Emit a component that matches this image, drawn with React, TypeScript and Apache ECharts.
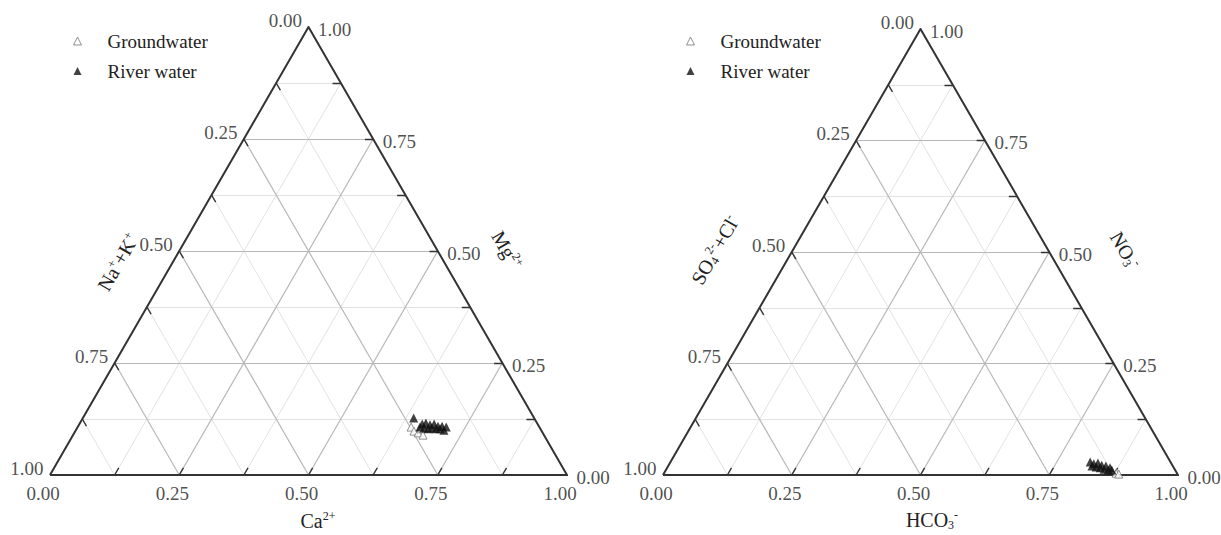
import { useEffect, useRef } from "react";
import * as echarts from "echarts";

// ---- data ----
const TICK_VALUES = [0, 0.25, 0.5, 0.75, 1];
const TICK_LABELS = ["0.00", "0.25", "0.50", "0.75", "1.00"];
const MAJOR_LEVELS = [0.25, 0.5, 0.75];
const MINOR_LEVELS = [0.125, 0.375, 0.625, 0.875];
const TICK_MARKS = [0.125, 0.25, 0.375, 0.5, 0.625, 0.75, 0.875];
const LEGEND_NAMES = ["Groundwater", "River water"];

// Cation triangle: [Ca2+, Mg2+]  (Na+ + K+ = 1 - Ca - Mg)
const cationRiver = [
  [0.640, 0.127], [0.663, 0.114], [0.669, 0.116], [0.679, 0.112], [0.686, 0.114],
  [0.696, 0.109], [0.704, 0.109], [0.713, 0.107], [0.671, 0.105], [0.680, 0.103],
  [0.686, 0.105], [0.695, 0.103], [0.703, 0.103], [0.712, 0.100], [0.662, 0.107],
];
const cationGround = [
  [0.645, 0.107], [0.655, 0.098], [0.665, 0.094], [0.666, 0.103], [0.677, 0.089],
];

// Anion triangle: [HCO3-, NO3-]  (SO4 2- + Cl- = 1 - HCO3 - NO3)
const anionRiver = [
  [0.815, 0.029], [0.824, 0.025], [0.831, 0.027], [0.841, 0.022], [0.850, 0.020],
  [0.860, 0.016], [0.832, 0.018], [0.841, 0.016], [0.850, 0.013], [0.859, 0.011],
  [0.866, 0.011], [0.823, 0.020],
];
const anionGround = [
  [0.878, 0.004], [0.884, 0.002],
];

const H = Math.sqrt(3) / 2;
const toXY = (a: number, b: number) => [a + b / 2, b * H];

const SERIF = '"Liberation Serif", "Times New Roman", serif';
const TEXT_COLOR = "#222222";

function gridSegments(levels: number[]) {
  const segs: any[] = [];
  levels.forEach((t) => {
    segs.push({ coords: [toXY(0, t), toXY(1 - t, t)] });
    segs.push({ coords: [toXY(t, 0), toXY(t, 1 - t)] });
    segs.push({ coords: [toXY(1 - t, 0), toXY(0, 1 - t)] });
  });
  return segs;
}

function tickSegments() {
  const L = 0.016;
  const segs: any[] = [];
  TICK_MARKS.forEach((t) => {
    segs.push({ coords: [toXY(t, 0), toXY(t, L)] });
    segs.push({ coords: [toXY(0, 1 - t), toXY(L, 1 - t - L)] });
    segs.push({ coords: [toXY(1 - t, t), toXY(1 - t - L, t)] });
  });
  return segs;
}

function triangleSeries(idx: number, river: number[][], ground: number[][]) {
  const labelBase = {
    show: true,
    formatter: "{b}",
    fontFamily: SERIF,
    fontSize: 19,
    color: TEXT_COLOR,
  };
  const dummy = { color: "transparent" };
  return [
    {
      type: "lines",
      coordinateSystem: "cartesian2d",
      xAxisIndex: idx,
      yAxisIndex: idx,
      silent: true,
      z: 1,
      lineStyle: { color: "#e2e2e2", width: 1, opacity: 1 },
      data: gridSegments(MINOR_LEVELS),
    },
    {
      type: "lines",
      coordinateSystem: "cartesian2d",
      xAxisIndex: idx,
      yAxisIndex: idx,
      silent: true,
      z: 2,
      lineStyle: { color: "#b8b8b8", width: 1.2, opacity: 1 },
      data: gridSegments(MAJOR_LEVELS),
    },
    {
      type: "lines",
      coordinateSystem: "cartesian2d",
      xAxisIndex: idx,
      yAxisIndex: idx,
      silent: true,
      z: 3,
      lineStyle: { color: "#333", width: 1.4, opacity: 1 },
      data: tickSegments(),
    },
    {
      type: "line",
      xAxisIndex: idx,
      yAxisIndex: idx,
      silent: true,
      z: 4,
      symbol: "none",
      lineStyle: { color: "#333", width: 2, join: "miter" },
      data: [toXY(0, 0), toXY(1, 0), toXY(0, 1), toXY(0, 0)],
    },
    {
      name: LEGEND_NAMES[0],
      type: "scatter",
      xAxisIndex: idx,
      yAxisIndex: idx,
      z: 5,
      symbol: "triangle",
      symbolSize: 8,
      itemStyle: { color: "#ffffff", borderColor: "#777", borderWidth: 1 },
      data: ground.map((p) => toXY(p[0], p[1])),
    },
    {
      name: LEGEND_NAMES[1],
      type: "scatter",
      xAxisIndex: idx,
      yAxisIndex: idx,
      z: 6,
      symbol: "triangle",
      symbolSize: 9,
      itemStyle: { color: "#111111" },
      data: river.map((p) => toXY(p[0], p[1])),
    },
    // base labels
    {
      type: "scatter",
      xAxisIndex: idx,
      yAxisIndex: idx,
      silent: true,
      z: 7,
      symbolSize: 1,
      itemStyle: dummy,
      label: { ...labelBase, position: "bottom", distance: 8, offset: [-7, 0] },
      data: TICK_VALUES.map((t, i) => ({ value: toXY(t, 0), name: TICK_LABELS[i] })),
    },
    // left edge labels
    {
      type: "scatter",
      xAxisIndex: idx,
      yAxisIndex: idx,
      silent: true,
      z: 7,
      symbolSize: 1,
      itemStyle: dummy,
      label: { ...labelBase, position: "left", distance: 6, offset: [0, -7] },
      data: TICK_VALUES.map((t, i) => ({ value: toXY(0, 1 - t), name: TICK_LABELS[i] })),
    },
    // right edge labels
    {
      type: "scatter",
      xAxisIndex: idx,
      yAxisIndex: idx,
      silent: true,
      z: 7,
      symbolSize: 1,
      itemStyle: dummy,
      label: { ...labelBase, position: "right", distance: 9, offset: [0, 2] },
      data: TICK_VALUES.map((t, i) => ({ value: toXY(1 - t, t), name: TICK_LABELS[i] })),
    },
  ];
}

const rich = {
  m: { fontFamily: SERIF, fontSize: 20, fill: TEXT_COLOR, color: TEXT_COLOR, lineHeight: 22 },
  sup: { fontFamily: SERIF, fontSize: 12, fill: TEXT_COLOR, color: TEXT_COLOR, lineHeight: 10, verticalAlign: "top" },
  sub: { fontFamily: SERIF, fontSize: 12, fill: TEXT_COLOR, color: TEXT_COLOR, lineHeight: 10, verticalAlign: "bottom" },
};

function title(text: string, x: number, y: number, rotation = 0) {
  return {
    type: "text",
    x,
    y,
    rotation,
    silent: true,
    style: {
      text,
      rich,
      align: "center",
      verticalAlign: "middle",
      textAlign: "center",
      textVerticalAlign: "middle",
    },
  };
}

function legend(left: number) {
  return {
    orient: "vertical",
    left,
    top: 31,
    padding: 0,
    itemWidth: 8,
    itemHeight: 8,
    itemGap: 10,
    selectedMode: false,
    textStyle: {
      fontFamily: SERIF,
      fontSize: 19,
      color: TEXT_COLOR,
      lineHeight: 20,
      padding: [0, 0, 0, 21],
    },
    data: [
      { name: LEGEND_NAMES[0], icon: "triangle", itemStyle: { color: "#fff", borderColor: "#777", borderWidth: 1 } },
      { name: LEGEND_NAMES[1], icon: "triangle", itemStyle: { color: "#111" } },
    ],
  };
}

export default function App() {
  const ref = useRef<HTMLDivElement>(null);
  useEffect(() => {
    if (!ref.current) return;
    const chart = echarts.init(ref.current, undefined, { renderer: "svg" });
    const axisX = (gi: number) => ({ type: "value", gridIndex: gi, min: 0, max: 1, show: false });
    const axisY = (gi: number) => ({ type: "value", gridIndex: gi, min: 0, max: H, show: false });
    chart.setOption({
      animation: false,
      backgroundColor: "#ffffff",
      grid: [
        { left: 50, top: 27, width: 517, height: 448, outerBoundsMode: "none", containLabel: false },
        { left: 663, top: 29, width: 515, height: 446, outerBoundsMode: "none", containLabel: false },
      ],
      xAxis: [axisX(0), axisX(1)],
      yAxis: [axisY(0), axisY(1)],
      legend: [legend(73), legend(686)],
      series: [
        ...triangleSeries(0, cationRiver, cationGround),
        ...triangleSeries(1, anionRiver, anionGround),
      ],
      graphic: [
        title("{m|Ca}{sup|2+}", 318, 521),
        title("{m|Na}{sup|+}{m|+K}{sup|+}", 118, 262, Math.PI / 3),
        title("{m|Mg}{sup|2+}", 507, 250, -Math.PI / 3),
        title("{m|HCO}{sub|3}{sup|-}", 932, 520),
        title("{m|SO}{sub|4}{sup|2-}{m|+Cl}{sup|-}", 715, 250, Math.PI / 3),
        title("{m|NO}{sub|3}{sup|-}", 1125, 250, -Math.PI / 3),
      ],
    });
    return () => chart.dispose();
  }, []);
  return (
    <div
      ref={ref}
      style={{ position: "fixed", left: 0, top: 0, width: 1221, height: 535, background: "#fff" }}
    />
  );
}
